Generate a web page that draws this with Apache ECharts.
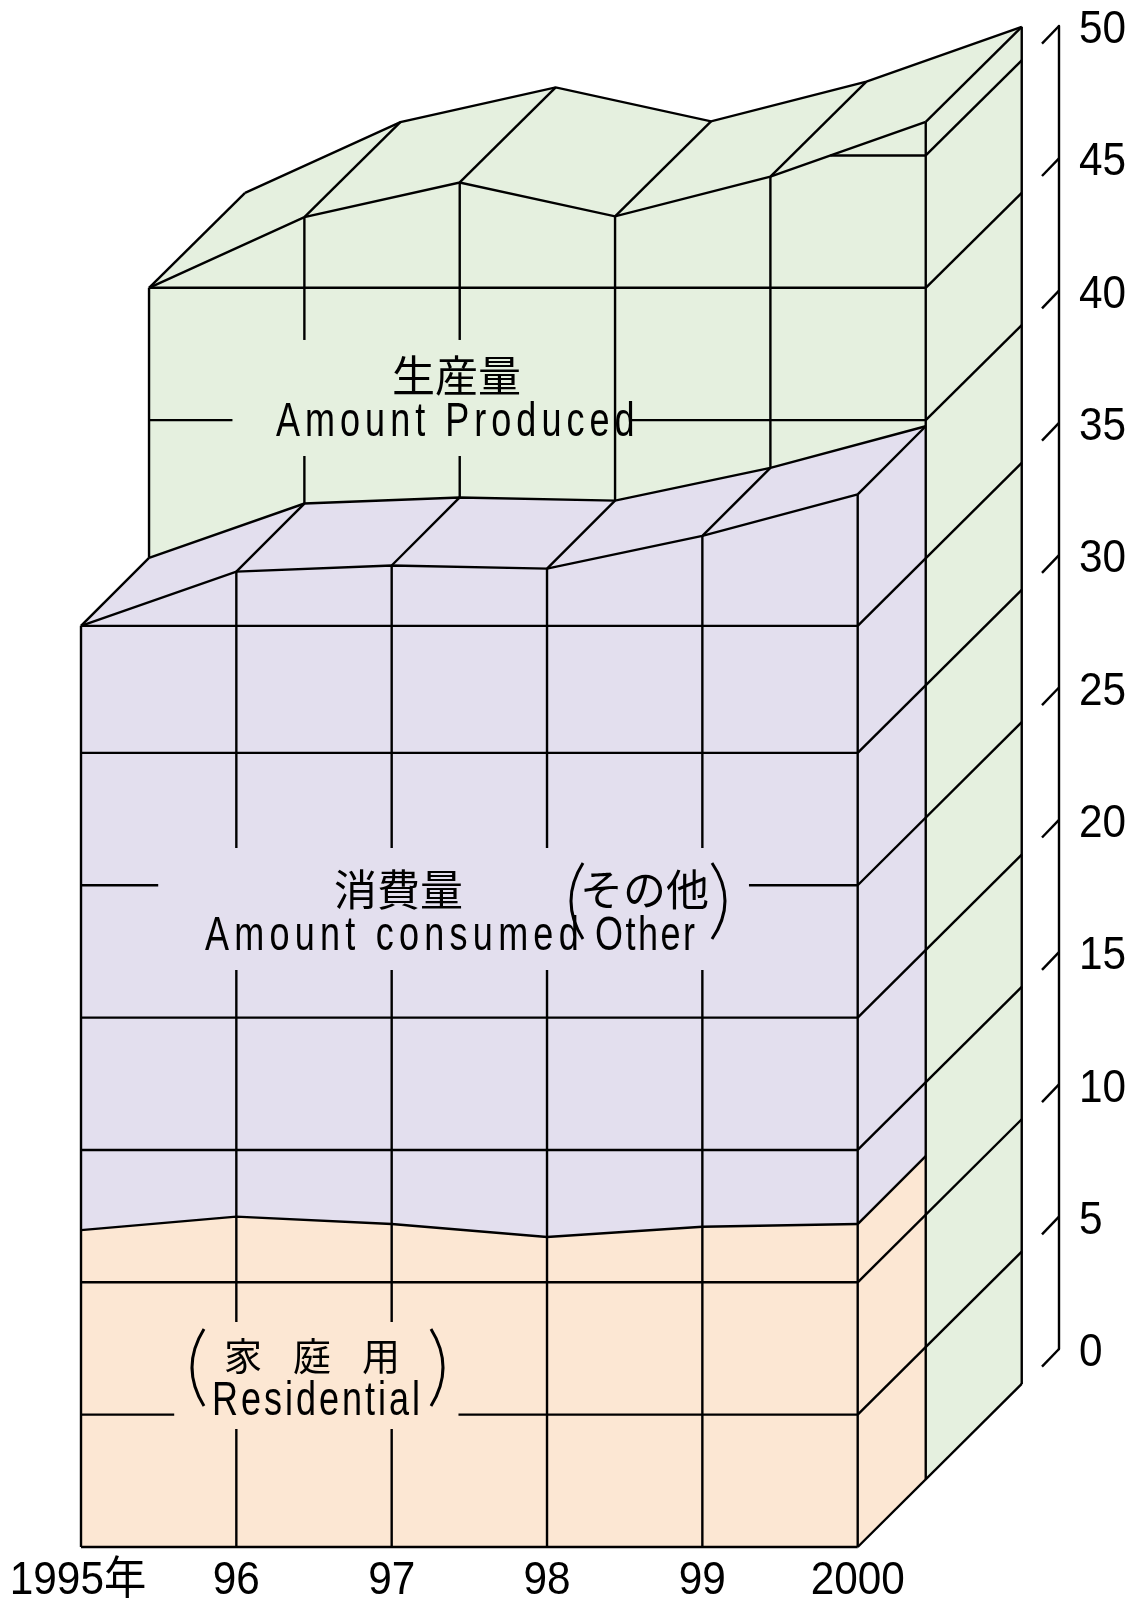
<!DOCTYPE html>
<html><head><meta charset="utf-8">
<style>html,body{margin:0;padding:0;background:#fff}#c{width:1129px;height:1598px}</style>
<script src="https://cdn.jsdelivr.net/npm/echarts@6/dist/echarts.min.js"></script>
</head><body><div id="c"></div>
<script>
// ---- data ----
const yearLabels = ['1995年','96','97','98','99','2000'];
const residential = [11.97,12.48,12.2,11.71,12.1,12.2];      // top of 家庭用 on front plane
const consumed    = [34.8,36.85,37.08,36.96,38.2,39.77];     // top of 消費量 on front plane
const produced    = [45.0,47.67,48.98,47.7,49.2,51.27];      // 生産量 on the rear block
const axisTicks   = [0,5,10,15,20,25,30,35,40,45,50];
const frontGrid   = [5,10,15,20,25,30,34.8];
const rearGrid    = [40,45,50];
const grid50Start = 4.386;

// ---- styling ----
const ORANGE='#fce7d3', PURPLE='#e3dfee', GREEN='#e5f0df', INK='#000';
const DEPTH_X=[0,0.438,1.056], DEPTH_Y=[0,2.57,6.16];  // oblique offset, axis units
const LW=2.4;
const xs=[0,1,2,3,4,5];
const NUM_FONT='"Liberation Sans","Noto Sans CJK JP"', NUM_SIZE=46, NUM_SX=0.92;

// half-width style letter spacing for the labels (px before scaling)
const SPACED={'Amount Produced':6.7,'Amount consumed':7,'Other':3.3,'Residential':4,'家庭用':31};
(function(){
  const proto=CanvasRenderingContext2D.prototype, base=proto.fillText;
  proto.fillText=function(t,x,y,m){
    const s=SPACED[t];
    if(s)this.letterSpacing=s+'px';
    if(m===undefined)base.call(this,t,x,y);else base.call(this,t,x,y,m);
    if(s)this.letterSpacing='0px';
  };
})();

function P(api,i,v,d){return api.coord([i+DEPTH_X[d],v+DEPTH_Y[d]]);}
function poly(points,fill){return {type:'polygon',shape:{points},style:{fill,stroke:null}};}
function line(points){return {type:'polyline',shape:{points},style:{fill:null,stroke:INK,lineWidth:LW,lineJoin:'miter'}};}
function firstOnly(build){return (params,api)=>params.dataIndex===0?{type:'group',children:build(api)}:null;}

const renderProduced=firstOnly(api=>{
  const d1=xs.map(i=>P(api,i,produced[i],1)), d2=xs.map(i=>P(api,i,produced[i],2));
  return [
    poly([...d1,P(api,5,0,1),P(api,0,0,1)],GREEN),
    poly([...d1,...d2.slice().reverse()],GREEN),
    poly([P(api,5,0,1),P(api,5,0,2),d2[5],d1[5]],GREEN)
  ];
});
const renderConsumed=firstOnly(api=>{
  const f=xs.map(i=>P(api,i,consumed[i],0)), d1=xs.map(i=>P(api,i,consumed[i],1));
  return [
    poly([...f,P(api,5,0,0),P(api,0,0,0)],PURPLE),
    poly([...f,...d1.slice().reverse()],PURPLE),
    poly([P(api,5,0,0),P(api,5,0,1),d1[5],f[5]],PURPLE)
  ];
});
const renderResidential=firstOnly(api=>{
  const f=xs.map(i=>P(api,i,residential[i],0));
  return [
    poly([...f,P(api,5,0,0),P(api,0,0,0)],ORANGE),
    poly([P(api,5,0,0),P(api,5,0,1),P(api,5,residential[5],1),f[5]],ORANGE)
  ];
});
// line gaps that leave room for the labels, in axis units
const frontHGaps={5:[[0.6,2.43]],25:[[0.497,4.3]]};
const rearHGaps={40:[[0.537,3.1]]};
const FRONT_GAP_HI=[(1547-970)/26.47,(1547-848)/26.47];
const FRONT_GAP_LO=[(1547-1429)/26.47,(1547-1322)/26.47];
const REAR_GAP=[(1479-456)/26.47,(1479-340)/26.47];
function spanLines(a,b,gaps,mk){
  const out=[];let s=a;
  (gaps||[]).forEach(g=>{out.push(mk(s,g[0]));s=g[1];});
  out.push(mk(s,b));return out;
}
const renderLines=firstOnly(api=>{
  const o=[];
  const fc=xs.map(i=>P(api,i,consumed[i],0)), dc=xs.map(i=>P(api,i,consumed[i],1));
  const p1=xs.map(i=>P(api,i,produced[i],1)), p2=xs.map(i=>P(api,i,produced[i],2));
  // rear block
  rearGrid.forEach(v=>{
    const from=v===50?grid50Start:0;
    spanLines(from,5,rearHGaps[v],(a,b)=>line([P(api,a,v,1),P(api,b,v,1)])).forEach(l=>o.push(l));
    o.push(line([P(api,5,v,1),P(api,5,v,2)]));
  });
  xs.forEach(i=>{
    if(i===0||i===5)return;
    if(i<=2){
      o.push(line([P(api,i,consumed[i],1),P(api,i,REAR_GAP[0],1)]));
      o.push(line([P(api,i,REAR_GAP[1],1),P(api,i,produced[i],1)]));
    } else o.push(line([P(api,i,consumed[i],1),P(api,i,produced[i],1)]));
  });
  o.push(line([P(api,0,consumed[0],1),P(api,0,produced[0],1)]));
  o.push(line(p1),line(p2));
  xs.forEach(i=>o.push(line([p1[i],p2[i]])));
  o.push(line([P(api,5,0,1),P(api,5,produced[5],1)]));
  o.push(line([P(api,5,0,2),P(api,5,produced[5],2)]));
  // front block
  frontGrid.forEach(v=>{
    spanLines(0,5,frontHGaps[v],(a,b)=>line([P(api,a,v,0),P(api,b,v,0)])).forEach(l=>o.push(l));
    o.push(line([P(api,5,v,0),P(api,5,v,2)]));
  });
  o.push(line([P(api,0,0,0),P(api,5,0,0)]));
  o.push(line([P(api,5,0,0),P(api,5,0,2)]));
  xs.forEach(i=>{
    if(i===0||i===5){o.push(line([P(api,i,0,0),P(api,i,consumed[i],0)]));return;}
    o.push(line([P(api,i,FRONT_GAP_HI[1],0),P(api,i,consumed[i],0)]));
    if(i<=2){
      o.push(line([P(api,i,FRONT_GAP_LO[1],0),P(api,i,FRONT_GAP_HI[0],0)]));
      o.push(line([P(api,i,0,0),P(api,i,FRONT_GAP_LO[0],0)]));
    } else o.push(line([P(api,i,0,0),P(api,i,FRONT_GAP_HI[0],0)]));
  });
  o.push(line(fc),line(dc));
  xs.forEach(i=>o.push(line([fc[i],dc[i]])));
  o.push(line(xs.map(i=>P(api,i,residential[i],0))));
  o.push(line([P(api,5,residential[5],0),P(api,5,residential[5],1)]));
  return o;
});
function numText(text,x,y,align){
  return {type:'text',x,y,scaleX:NUM_SX,
    style:{text,fontFamily:NUM_FONT,fontSize:NUM_SIZE,fill:INK,textAlign:align,textVerticalAlign:'middle',align,verticalAlign:'middle'}};
}
const renderTicks=(params,api)=>{
  const v=api.value(1), p=api.coord([0,v]);
  return {type:'group',children:[
    {type:'line',shape:{x1:p[0]-17,y1:p[1]+17.7,x2:p[0],y2:p[1]},style:{stroke:INK,lineWidth:LW}},
    numText(String(v),p[0]+20,p[1]+4.5,'left')
  ]};
};
const renderYears=(params,api)=>{
  const i=api.value(0), p=api.coord([i,0]);
  return numText(yearLabels[i],p[0]-(i===0?3:0),p[1]+34,'center');
};

function series(name,data,renderItem,extra){
  return Object.assign({type:'custom',name,data,renderItem,coordinateSystem:'cartesian2d',xAxisIndex:0,yAxisIndex:0,clip:false,silent:true,animation:false},extra||{});
}
const pairs=a=>a.map((v,i)=>[i,v]);

const CJK='"Noto Sans CJK JP"', SANS='"Liberation Sans"';
function txt(text,x,y,font,size,sx){
  return {type:'text',x,y,scaleX:sx||1,z:100,silent:true,
    style:{text,fontFamily:font,fontSize:size,fill:INK,textAlign:'left',textVerticalAlign:'middle',align:'left',verticalAlign:'middle'}};
}
function paren(x1,mx,y1,y2){
  return {type:'bezierCurve',z:100,silent:true,
    shape:{x1,y1,x2:x1,y2,cpx1:2*mx-x1,cpy1:(y1+y2)/2},
    style:{fill:null,stroke:INK,lineWidth:3}};
}

const chart=echarts.init(document.getElementById('c'),null,{renderer:'canvas'});
chart.setOption({
  animation:false,backgroundColor:'#fff',
  grid:[
    {left:81,width:776.7,top:620.55,height:926.45,outerBoundsMode:'none'},
    {left:1059,width:1,top:26,height:1323,outerBoundsMode:'none'}
  ],
  xAxis:[
    {type:'value',gridIndex:0,min:0,max:5,interval:1,show:false},
    {type:'value',gridIndex:1,min:0,max:1,show:false}
  ],
  yAxis:[
    {type:'value',gridIndex:0,min:0,max:35,show:false},
    {type:'value',gridIndex:1,position:'right',min:0,max:50,interval:5,splitLine:{show:false},axisTick:{show:false},
     axisLine:{show:true,lineStyle:{color:INK,width:LW}},axisLabel:{show:false}}
  ],
  series:[
    series('生産量 Amount Produced',pairs(produced),renderProduced),
    series('消費量(その他) Amount consumed Other',pairs(consumed),renderConsumed),
    series('消費量(家庭用) Residential',pairs(residential),renderResidential),
    series('grid lines',[[0,0]],renderLines),
    series('years',yearLabels.map((y,i)=>[i,0]),renderYears),
    series('axis ticks',axisTicks.map(v=>[0,v]),renderTicks,{xAxisIndex:1,yAxisIndex:1})
  ],
  graphic:{elements:[
    txt('生産量',392,376,CJK,43),
    txt('Amount Produced',276,423,SANS,48,0.75),
    txt('消費量',334,890,CJK,43),
    txt('その他',580,890,CJK,43),
    txt('Amount consumed',205,937,SANS,48,0.75),
    txt('Other',595,937,SANS,48,0.75),
    txt('家庭用',224,1356,CJK,38),
    txt('Residential',212,1402,SANS,48,0.75),
    paren(583,571,863,939),
    paren(712,725,863,939),
    paren(204,192,1329,1406),
    paren(431,443,1329,1406)
  ]}
});
</script></body></html>
